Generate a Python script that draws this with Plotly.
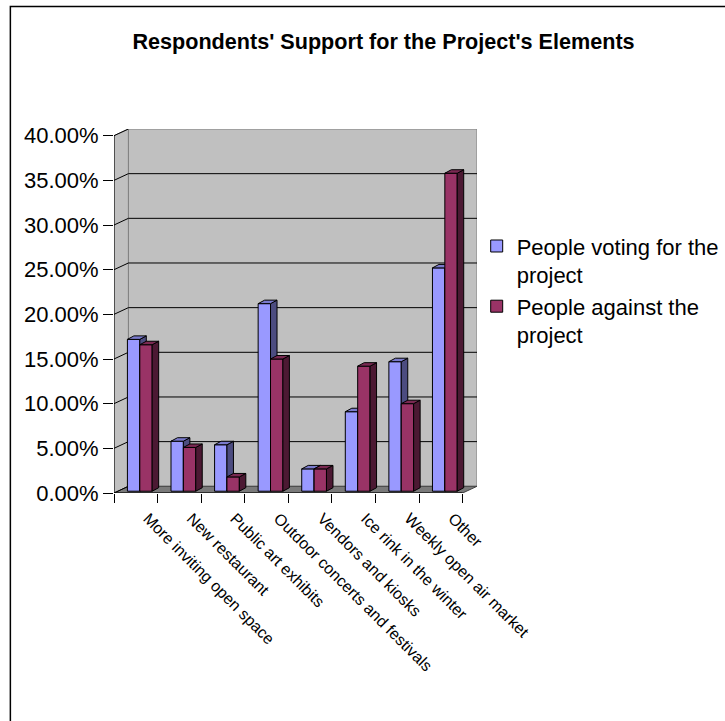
import plotly.graph_objects as go

# ---- data -------------------------------------------------------------
categories = [
    "More inviting open space",
    "New restaurant",
    "Public art exhibits",
    "Outdoor concerts and festivals",
    "Vendors and kiosks",
    "Ice rink in the winter",
    "Weekly open air market",
    "Other",
]
voting_for = [17.0, 5.6, 5.2, 21.0, 2.5, 8.9, 14.5, 25.0]
voting_against = [16.4, 4.9, 1.6, 14.8, 2.5, 14.0, 9.8, 35.6]
series_names = ["People voting for the<br>project", "People against the<br>project"]
y_ticks = [0, 5, 10, 15, 20, 25, 30, 35, 40]

# ---- styling / 3-D projection constants -------------------------------
FONT = "Arial, Liberation Sans, sans-serif"
WX, WY = 0.33, 0.75        # depth of walls (x in category units, y in %)
BX, BY = 0.092, 0.20       # offset of bar fronts behind the front plane
BW = 0.284                 # bar width (category units)
SX, SY = 0.149, 0.39       # bar depth (side/top faces)
N = len(categories)
X_MAX = N + WX
Y_MAX = y_ticks[-1] + WY

colors = {
    "front": ["#9999FF", "#993366"],
    "top": ["#7A7ACC", "#7A2952"],
    "side": ["#4C4C80", "#4C1933"],
}


def faces(values, offset):
    """Polygons (joined with None) for the top and side faces of each bar."""
    tx, ty, sx, sy = [], [], [], []
    for i, v in enumerate(values):
        xl = i + 0.5 + BX + offset
        xr = xl + BW
        yb, yt = BY, BY + v
        tx += [xl, xr, xr + SX, xl + SX, xl, None]
        ty += [yt, yt, yt + SY, yt + SY, yt, None]
        sx += [xr, xr + SX, xr + SX, xr, xr, None]
        sy += [yb, yb + SY, yt + SY, yt, yb, None]
    return tx, ty, sx, sy


fig = go.Figure()

for k, (vals, axes) in enumerate(
    [(voting_for, ("x", "y")), (voting_against, ("x2", "y2"))]
):
    offset = -BW if k == 0 else 0.0
    fig.add_trace(go.Bar(
        x=[i + 0.5 + BX for i in range(N)],
        y=vals,
        base=BY,
        width=BW,
        offset=offset,
        name=series_names[k],
        marker=dict(color=colors["front"][k], line=dict(color="black", width=1)),
        xaxis=axes[0], yaxis=axes[1],
    ))
    tx, ty, sx, sy = faces(vals, offset)
    fig.add_trace(go.Scatter(
        x=sx, y=sy, mode="lines", fill="toself",
        fillcolor=colors["side"][k], line=dict(color="black", width=1),
        showlegend=False, hoverinfo="skip", xaxis=axes[0], yaxis=axes[1],
    ))
    fig.add_trace(go.Scatter(
        x=tx, y=ty, mode="lines", fill="toself",
        fillcolor=colors["top"][k], line=dict(color="black", width=1),
        showlegend=False, hoverinfo="skip", xaxis=axes[0], yaxis=axes[1],
    ))

# ---- walls, floor and gridlines ---------------------------------------
shapes = []
# back wall
shapes.append(dict(type="rect", xref="x", yref="y", layer="below",
                   x0=WX, x1=N + WX, y0=WY, y1=y_ticks[-1] + WY,
                   fillcolor="#C0C0C0", line=dict(color="#808080", width=1)))
# left side wall
shapes.append(dict(type="path", xref="x", yref="y", layer="below",
                   path=f"M0,0 L{WX},{WY} L{WX},{y_ticks[-1] + WY} L0,{y_ticks[-1]} Z",
                   fillcolor="#C0C0C0", line=dict(color="#808080", width=1)))
# floor
shapes.append(dict(type="path", xref="x", yref="y", layer="below",
                   path=f"M0,0 L{N},0 L{N + WX},{WY} L{WX},{WY} Z",
                   fillcolor="#7A7A7A", line=dict(color="#404040", width=1)))
# gridlines on back wall and matching diagonals on side wall
for v in y_ticks:
    if 0 < v < y_ticks[-1]:
        shapes.append(dict(type="line", xref="x", yref="y", layer="below",
                           x0=WX, x1=N + WX, y0=v + WY, y1=v + WY,
                           line=dict(color="black", width=1)))
    shapes.append(dict(type="line", xref="x", yref="y", layer="below",
                       x0=0, x1=WX, y0=v, y1=v + WY,
                       line=dict(color="black", width=1)))
# front axis lines
shapes.append(dict(type="line", xref="x", yref="y", x0=0, x1=0, y0=0, y1=y_ticks[-1],
                   line=dict(color="black", width=1)))
shapes.append(dict(type="line", xref="x", yref="y", x0=0, x1=N, y0=0, y1=0,
                   line=dict(color="black", width=1)))
# outer chart frame
shapes.append(dict(type="path", xref="paper", yref="paper",
                   path="M -0.2855,-0.7 L -0.2855,1.3365 L 1.75,1.3365",
                   line=dict(color="black", width=1.5)))

fig.update_layout(
    width=725, height=721, autosize=False,
    margin=dict(l=113.5, r=247.6, t=129.3, b=228.3, pad=0, autoexpand=False),
    paper_bgcolor="white", plot_bgcolor="rgba(0,0,0,0)",
    barmode="overlay",
    font=dict(family=FONT, color="black"),
    title=dict(text="<b>Respondents' Support for the Project's Elements</b>",
               font=dict(family=FONT, size=21.6, color="black"),
               x=0.529, xref="container", xanchor="center",
               y=1 - 41 / 721, yref="container", yanchor="middle"),
    xaxis=dict(range=[0, X_MAX], showgrid=False, zeroline=False, showline=False,
               automargin=False,
               tickmode="array", tickvals=[i + 0.5 for i in range(N)],
               ticktext=categories, ticks="", tickangle=45,
               ticklabelshift=12, ticklabelstandoff=12,
               tickfont=dict(family=FONT, size=16, color="black"),
               minor=dict(tickmode="array", tickvals=list(range(N + 1)),
                          ticks="outside", ticklen=9, tickcolor="black",
                          tickwidth=1, showgrid=False)),
    yaxis=dict(range=[0, Y_MAX], showgrid=False, zeroline=False, showline=False,
               automargin=False,
               tickmode="array", tickvals=y_ticks,
               ticktext=[f"{v:.2f}%" for v in y_ticks],
               ticks="outside", ticklen=10, tickcolor="black", tickwidth=1,
               tickfont=dict(family=FONT, size=22, color="black")),
    xaxis2=dict(range=[0, X_MAX], overlaying="x", visible=False),
    yaxis2=dict(range=[0, Y_MAX], overlaying="y", visible=False),
    legend=dict(x=476.7 / 725, xref="container", xanchor="left",
                y=1 - 225.2 / 721, yref="container", yanchor="top",
                valign="top", bgcolor="rgba(0,0,0,0)",
                font=dict(family=FONT, size=22, color="black")),
    shapes=shapes,
    showlegend=True,
)

fig.write_html("out.html")
